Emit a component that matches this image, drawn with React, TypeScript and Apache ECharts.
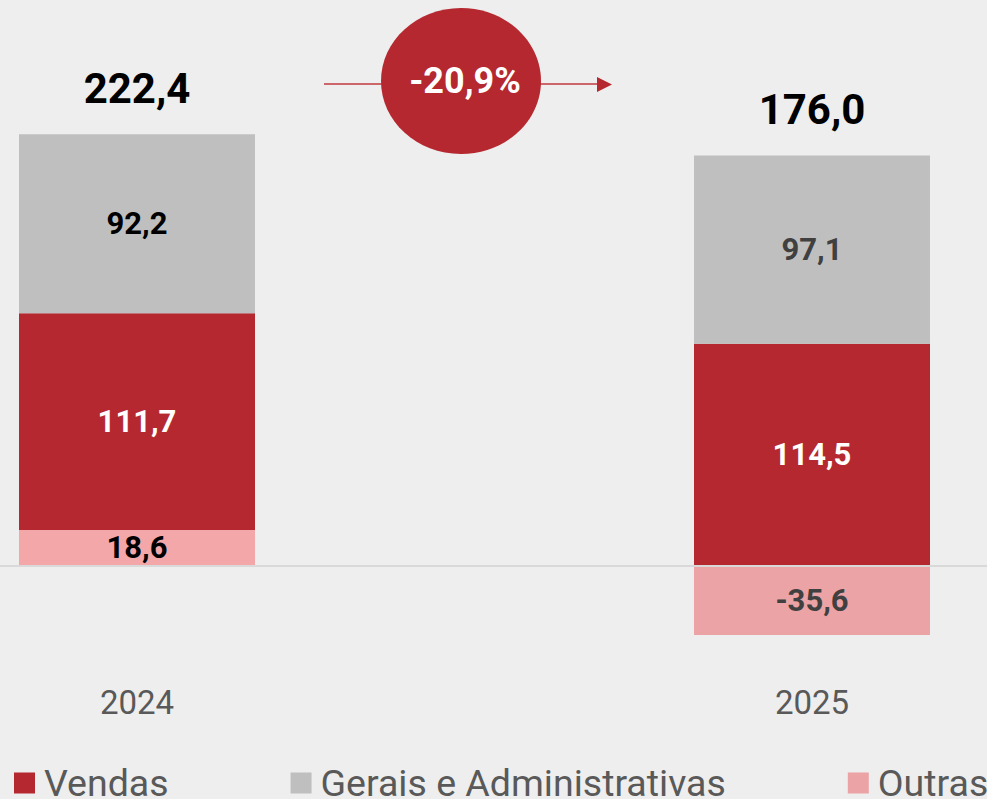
import React, { useEffect, useRef } from "react";
import * as echarts from "echarts";

// ---- data ----
const years = ["2024", "2025"];
const seriesNames = ["Vendas", "Gerais e Administrativas", "Outras"];
const vendas = [111.7, 114.5];
const gerais = [92.2, 97.1];
const outras = [18.6, -35.6];
const totals = [222.4, 176.0];
const variationLabel = "-20,9%";

const fmt = (v: number) => v.toFixed(1).replace(".", ",");

const RED = "#b5282f";
const GREY = "#bfbfbf";
const PINK = "#eba3a5";
const PINK_2024 = "#f4a7a9";
const FONT = "Roboto";

export default function App() {
  const ref = useRef<HTMLDivElement>(null);

  useEffect(() => {
    if (!ref.current) return;
    const chart = echarts.init(ref.current, undefined, { renderer: "svg" });

    const segLabel = {
      show: true,
      position: "inside" as const,
      fontFamily: FONT,
      fontSize: 31,
      fontWeight: "bold" as const,
      formatter: (p: any) => fmt(p.value),
    };

    const positiveTop = years.map(
      (_, i) => vendas[i] + gerais[i] + Math.max(outras[i], 0)
    );

    const yCommon = {
      type: "value" as const,
      min: -60,
      max: 240,
      show: false,
      splitLine: { show: false },
    };

    chart.setOption({
      animation: false,
      backgroundColor: "#eeeeee",
      textStyle: { fontFamily: FONT },
      grid: [
        { left: 137, right: 175, top: 100.4, bottom: 116.6 },
        { left: 0, right: 0, top: 100.4, bottom: 116.6 },
      ],
      xAxis: [
        {
          type: "category",
          data: years,
          boundaryGap: false,
          gridIndex: 0,
          axisLine: { show: false },
          axisTick: { show: false },
          splitLine: { show: false },
          axisLabel: {
            fontFamily: FONT,
            fontSize: 33,
            color: "#595959",
            margin: 4,
          },
        },
        { type: "category", data: years, gridIndex: 1, show: false },
      ],
      yAxis: [
        { ...yCommon, gridIndex: 0 },
        { ...yCommon, gridIndex: 1 },
      ],
      legend: {
        data: seriesNames,
        left: 14,
        top: 764,
        width: 1400,
        padding: 0,
        itemGap: 122,
        itemWidth: 21,
        itemHeight: 21,
        icon: "rect",
        selectedMode: false,
        textStyle: {
          fontFamily: FONT,
          fontSize: 37.5,
          color: "#595959",
          padding: [0, 0, 0, 4],
        },
      },
      series: [
        {
          name: "zero",
          type: "line",
          xAxisIndex: 1,
          yAxisIndex: 1,
          data: [],
          silent: true,
          z: 5,
          markLine: {
            silent: true,
            symbol: ["none", "none"],
            label: { show: false },
            lineStyle: { color: "#d9d9d9", width: 2, type: "solid" },
            data: [{ yAxis: 0 }],
          },
        },
        {
          name: "Outras",
          type: "bar",
          stack: "total",
          barWidth: 236,
          clip: false,
          itemStyle: { color: PINK },
          label: { ...segLabel },
          data: outras.map((v, i) => ({
            value: v,
            itemStyle: { color: i === 0 ? PINK_2024 : PINK },
            label: { color: i === 0 ? "#000000" : "#404040" },
          })),
        },
        {
          name: "Vendas",
          type: "bar",
          stack: "total",
          barWidth: 236,
          clip: false,
          itemStyle: { color: RED },
          label: { ...segLabel, color: "#ffffff" },
          data: vendas,
        },
        {
          name: "Gerais e Administrativas",
          type: "bar",
          stack: "total",
          barWidth: 236,
          clip: false,
          itemStyle: { color: GREY },
          label: { ...segLabel },
          data: gerais.map((v, i) => ({
            value: v,
            label: { color: i === 0 ? "#000000" : "#404040" },
          })),
        },
        {
          name: "Total",
          type: "scatter",
          symbolSize: 1,
          clip: false,
          itemStyle: { color: "transparent", opacity: 1 },
          silent: true,
          label: {
            show: true,
            position: "top",
            distance: 24,
            fontFamily: FONT,
            fontSize: 42,
            fontWeight: "bold",
            color: "#000000",
            opacity: 1,
            formatter: (p: any) => fmt(totals[p.dataIndex]),
          },
          data: positiveTop,
        },
      ],
      graphic: [
        {
          type: "line",
          z: 10,
          shape: { x1: 324, y1: 84, x2: 600, y2: 84 },
          style: { stroke: "#c0393f", lineWidth: 1.5 },
        },
        {
          type: "polygon",
          z: 10,
          shape: { points: [[597, 77], [612, 84.5], [597, 92]] },
          style: { fill: RED },
        },
        {
          type: "ellipse",
          z: 11,
          shape: { cx: 461, cy: 81, rx: 80, ry: 73 },
          style: { fill: RED },
        },
        {
          type: "text",
          z: 12,
          x: 465,
          y: 81,
          style: {
            text: variationLabel,
            fill: "#ffffff",
            fontFamily: FONT,
            fontSize: 36,
            fontWeight: "bold",
            align: "center",
            verticalAlign: "middle",
          },
        },
      ],
    });

    return () => chart.dispose();
  }, []);

  return (
    <div
      ref={ref}
      style={{ position: "fixed", left: 0, top: 0, width: 987, height: 799 }}
    />
  );
}
